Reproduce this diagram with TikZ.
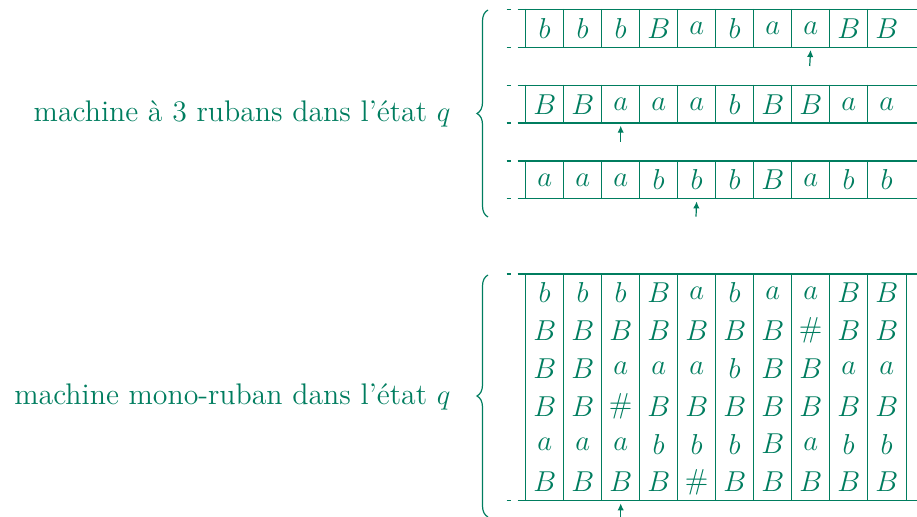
\documentclass[tikz,border=0pt]{standalone}
\usetikzlibrary{arrows.meta}
\usetikzlibrary{decorations.pathreplacing}
\definecolor{tapegreen}{RGB}{0,125,95}

\begin{document}
\begin{tikzpicture}[x=0.5pt,y=-0.5pt,color=tapegreen,line width=0.6pt,
  cell/.style={minimum width=19pt,minimum height=18.9pt,inner sep=0pt,font=\fontsize{14}{16}\selectfont},
  label/.style={anchor=base east,inner sep=0pt,font=\fontsize{14.9}{17}\selectfont},
  head/.style={-{Latex[length=3.5pt,width=3.2pt]},shorten >=1pt},
  brace/.style={decorate,decoration={brace,amplitude=5.5pt}}]
\useasboundingbox (0,0) rectangle (917,517);
\foreach \s [count=\i] in {b,b,b,B,a,b,a,a,B,B}
  \node at ({544.7+38*(\i-1)}, 28.5) (A\i) [cell] {$\s$};
\foreach \s [count=\i] in {B,B,a,a,a,b,B,B,a,a}
  \node at ({544.7+38*(\i-1)},104.2) (B\i) [cell] {$\s$};
\foreach \s [count=\i] in {a,a,a,b,b,b,B,a,b,b}
  \node at ({544.7+38*(\i-1)},179.9) (C\i) [cell] {$\s$};
\foreach \y in {9.7,47.3,85.3,123,161,198.7} {
  \draw (517.7,\y) -- (917,\y);
  \draw (506.7,\y) -- (510.5,\y);
}
\foreach \i in {1,...,10} {
  \draw (A\i.north west) -- (A\i.south west);
  \draw (B\i.north west) -- (B\i.south west);
  \draw (C\i.north west) -- (C\i.south west);
}
\coordinate (hA) at (809.7,66);
\coordinate (hB) at (620.7,141.7);
\coordinate (hC) at (696,216.7);
\draw [head] (hA) -- (A8.south);
\draw [head] (hB) -- (B3.south);
\draw [head] (hC) -- (C5.south);
\foreach \row [count=\j] in {{b,b,b,B,a,b,a,a,B,B},{B,B,B,B,B,B,B,\#,B,B},
    {B,B,a,a,a,b,B,B,a,a},{B,B,\#,B,B,B,B,B,B,B},
    {a,a,a,b,b,b,B,a,b,b},{B,B,B,B,\#,B,B,B,B,B}}
  \foreach \s [count=\i] in \row
    \node at ({544.7+38*(\i-1)},{274+37.8*(\j-0.5)}) (M\j-\i) [cell] {$\s$};
\foreach \y in {274,500.8} {
  \draw (517.7,\y) -- (917,\y);
  \draw (506.7,\y) -- (510.5,\y);
}
\foreach \i in {1,...,10}
  \draw (M1-\i.north west) -- (M6-\i.south west);
\draw (M1-10.north east) -- (M6-10.south east);
\coordinate (hM) at (620.7,520);
\draw [head] (hM) -- (M6-3.south);
\node at (451,121.7) (three) [label] {machine à 3 rubans dans l'état $q$};
\node at (451,405) (mono) [label] {machine mono-ruban dans l'état $q$};
\draw [brace] (488,217) -- (488,10);
\draw [brace] (488,517) -- (488,275);
\end{tikzpicture}
\end{document}
